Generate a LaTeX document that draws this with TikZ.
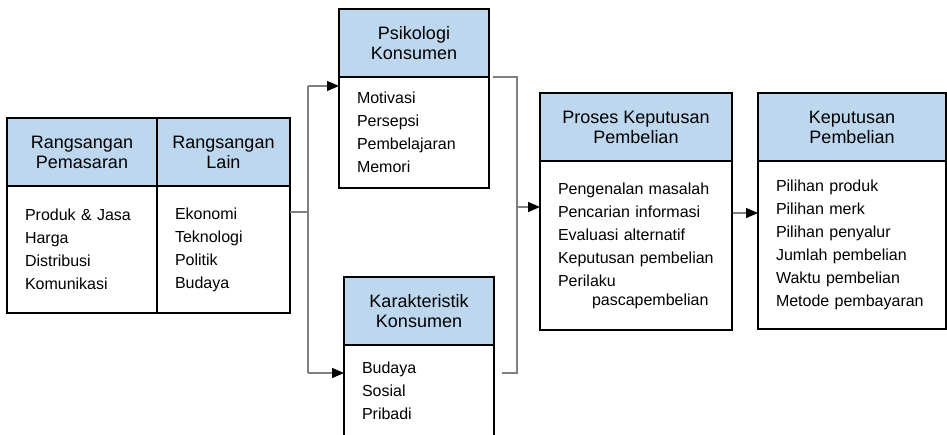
\documentclass[tikz,border=0pt]{standalone}
\usepackage{fontspec}
\setmainfont{Liberation Sans}
\usetikzlibrary{positioning,arrows.meta}

\definecolor{kepalabiru}{HTML}{BDD7EE}
\definecolor{garisabu}{HTML}{808080}

\tikzset{
	kepala/.style={draw, line width=1.8pt, fill=kepalabiru, inner sep=0pt, outer sep=0pt,
		align=center, minimum width=#1, minimum height=68pt, font=\fontsize{18}{20}\selectfont},
	isi/.style={draw, line width=1.8pt, fill=white, inner xsep=18pt, inner ysep=0pt, outer sep=0pt,
		align=left, text width=#1, font=\fontsize{16}{23}\selectfont},
	hubung/.style={garisabu, line width=1.3pt},
	panah/.style={hubung, -{Triangle[length=12pt,width=10pt,color=black]}}
}

\begin{document}
\begin{tikzpicture}[x=1pt,y=-1pt]
			\useasboundingbox (0,0) rectangle (947,434);

			% rangsangan
			\node[kepala=150pt, anchor=north west]	(pasar)	at (7,118)	{Rangsangan\\Pemasaran};
			\node[kepala=133pt, right=0pt of pasar]	(lain)				{Rangsangan\\Lain};
			\node[isi=114pt, minimum height=127pt, below=0pt of pasar]	(pasar-isi)
				{Produk \& Jasa\\Harga\\Distribusi\\Komunikasi};
			\node[isi=97pt, minimum height=127pt, below=0pt of lain]	(lain-isi)
				{Ekonomi\\Teknologi\\Politik\\Budaya};

			% psikologi dan karakteristik konsumen
			\node[kepala=150pt, anchor=north west]	(psiko)	at (339,9)	{Psikologi\\Konsumen};
			\node[isi=114pt, minimum height=111pt, below=0pt of psiko]	(psiko-isi)
				{Motivasi\\Persepsi\\Pembelajaran\\Memori};
			\node[kepala=150pt, anchor=north west]	(karak)	at (344,277)	{Karakteristik\\Konsumen};
			\node[isi=114pt, minimum height=92pt, below=0pt of karak]	(karak-isi)
				{Budaya\\Sosial\\Pribadi};

			% proses dan keputusan
			\node[kepala=192pt, anchor=north west]	(proses)	at (540,93)	{Proses Keputusan\\Pembelian};
			\node[isi=156pt, minimum height=169pt, below=0pt of proses]	(proses-isi)
				{Pengenalan masalah\\Pencarian informasi\\Evaluasi alternatif\\Keputusan pembelian\\Perilaku\\[-4pt]\hspace*{34pt}pascapembelian};
			\node[kepala=188pt, anchor=north west]	(keputusan)	at (758,93)	{Keputusan\\Pembelian};
			\node[isi=152pt, minimum height=168pt, below=0pt of keputusan]	(keputusan-isi)
				{Pilihan produk\\Pilihan merk\\Pilihan penyalur\\Jumlah pembelian\\Waktu pembelian\\Metode pembayaran};

			% cabang ke kanan
			\coordinate	(cabang)		at (308,212);
			\coordinate	(ke-psiko)		at (308,86);
			\coordinate	(ke-karak)		at (308,373);
			\draw[hubung]	(lain-isi.east |- cabang)	--	(cabang);
			\draw[hubung]	(ke-psiko)	--	(ke-karak);
			\draw[panah]	(ke-psiko)	--	(ke-psiko -| psiko-isi.west);
			\draw[panah]	(ke-karak)	--	(ke-karak -| karak-isi.west);

			% gabung ke proses
			\coordinate	(kumpul-bawah)	at (517,373);
			\coordinate	(ke-proses)		at (517,207);
			\draw[hubung]	([xshift=4pt]psiko-isi.north east)	-|	(kumpul-bawah)
							--	([xshift=8pt]karak-isi.east |- kumpul-bawah);
			\draw[panah]	(ke-proses)	--	(ke-proses -| proses-isi.west);

			% ke keputusan
			\coordinate	(ke-keputusan)	at (733,213);
			\draw[panah]	(ke-keputusan)	--	(ke-keputusan -| keputusan-isi.west);
		\end{tikzpicture}
\end{document}
